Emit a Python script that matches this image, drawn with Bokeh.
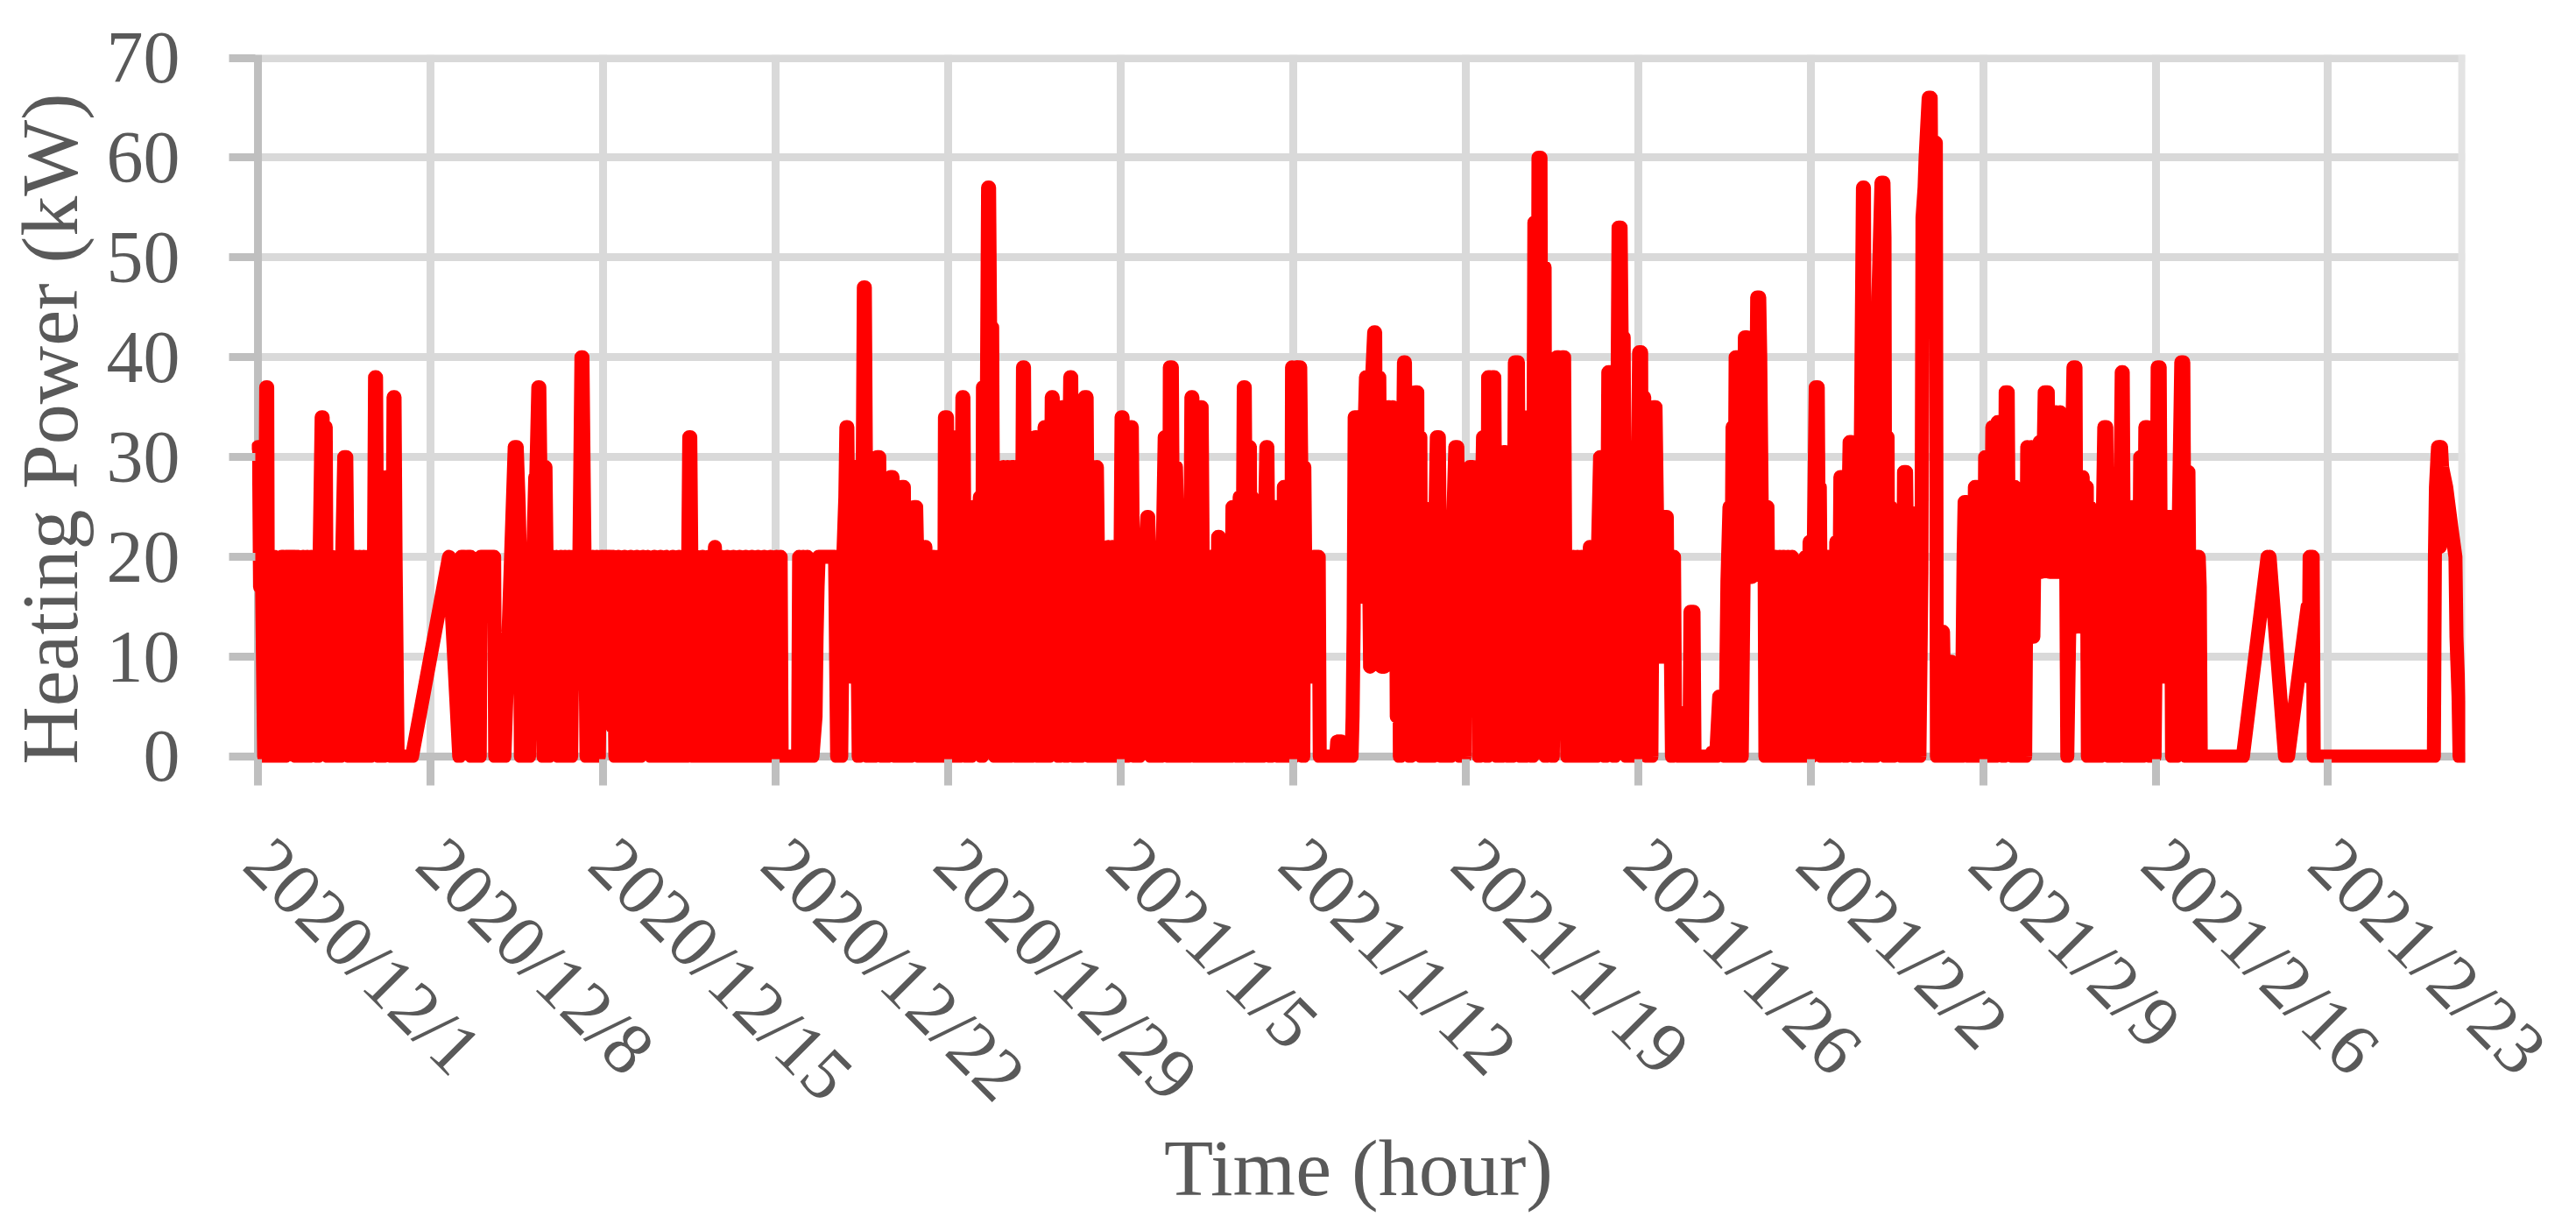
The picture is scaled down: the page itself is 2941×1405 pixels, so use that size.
import math
from bokeh.plotting import figure
from bokeh.models import FixedTicker, Span, Range1d
from bokeh.embed import file_html
from bokeh.resources import INLINE

# ---- data: (hour since 2020/12/1 00:00, heating power kW) ----
week1 = [(0,31),(1,31),(2,17),(4,17),(6,0),(8,37),(9,37),(10,0),(13,0),(15,20),(16,20),(17,0),(20,0),(23,20),(25,20),(26,0),(27,20),(36,20),(37,0),(39,20),(41,17),(42,0),(44,20),(46,0),(48,20),(50,0),(52,20),(54,12),(56,20),(58,0),(60,20),(62,34),(63,34),(64,20),(65,33),(66,33),(67,10),(68,0),(71,0),(72,20),(73,0),(80,0),(82,20),(84,30),(86,30),(87,20),(89,0),(91,20),(93,0),(95,20),(97,0),(99,20),(101,0),(103,20),(105,0),(107,20),(109,0),(111,20),(113,20),(114,38),(115,38),(116,20),(118,0),(120,20),(122,0),(124,20),(125,28),(128,28),(129,20),(130,0),(132,36),(133,36),(134,20),(136,0),(150,0)]
week2 = [(186,20),(196,0),(198,20),(201,20),(203,17),(204,20),(207,20),(208,0),(216,0),(217,20),(230,20),(231,0),(240,0),(250,31),(252,31),(254,25),(255,20),(256,0),(258,20),(260,0),(262,20),(264,0),(266,20),(268,20),(270,28),(271,28),(273,37),(274,37),(276,20),(278,0),(280,29),(281,20),(283,0),(285,20),(287,20),(289,17),(291,20),(293,0),(295,20),(297,0),(299,20),(301,0),(303,20),(305,0),(307,20),(309,12),(311,20),(313,20),(315,40),(316,40),(318,20),(320,0),(322,20),(324,0),(326,20),(328,0),(330,20),(332,0),(334,20)]
week3 = [(336,20),(338,10),(339,20),(343,20),(345,3),(346,20),(348,0),(351,20),(354,0),(357,20),(360,0),(363,20),(366,0),(369,20),(372,0),(375,20),(378,17),(380,20),(383,0),(386,20),(389,0),(392,20),(395,0),(398,20),(401,0),(404,20),(407,0),(410,20),(412,0),(415,20),(417,0),(419,20),(420,32),(421,32),(422,20),(424,0),(427,20),(430,0),(433,20),(436,0),(439,20),(442,0),(445,21),(448,0),(451,20),(454,0),(457,20),(460,0),(463,20),(466,0),(469,20),(472,0),(475,20),(478,0),(481,20),(484,0),(487,20),(490,0),(493,20),(496,0),(499,20),(502,0)]
week4 = [(505,20),(507,0),(509,20),(510,0),(526,0),(527,20),(529,0),(531,20),(533,0),(535,20),(537,0),(538,15),(540,0),(543,4),(544,12),(545,17),(546,20),(562,20),(564,0),(566,20),(568,0),(570,20),(572,26),(573,33),(574,33),(575,20),(577,8),(579,20),(581,29),(582,29),(583,20),(585,0),(587,25),(589,30),(590,47),(591,47),(592,30),(594,0),(596,25),(598,25),(600,0),(602,20),(603,30),(605,30),(606,20),(608,0),(610,26),(611,26),(613,0),(615,20),(616,28),(618,28),(619,20),(621,0),(623,20),(625,0),(627,27),(629,27),(631,0),(633,20),(635,0),(637,20),(639,25),(641,25),(642,20),(644,0),(646,20),(648,0),(650,21),(652,0),(654,20),(656,0),(658,20),(660,0),(662,20),(664,0),(666,20),(668,0),(669,34),(671,34)]
week5 = [(672,20),(674,0),(676,32),(677,32),(678,20),(680,0),(681,24),(683,0),(685,20),(686,36),(687,36),(688,20),(690,0),(692,20),(694,0),(696,25),(698,25),(699,8),(701,20),(703,26),(704,8),(705,0),(706,37),(707,26),(709,20),(711,57),(712,57),(713,43),(715,43),(716,18),(718,0),(720,18),(722,0),(724,23),(726,29),(728,0),(730,29),(732,0),(734,29),(736,29),(737,10),(739,0),(741,20),(743,0),(745,39),(746,39),(747,20),(749,0),(751,20),(753,0),(755,20),(757,32),(758,32),(760,0),(762,20),(764,0),(766,33),(767,33),(768,20),(770,0),(772,20),(773,36),(774,36),(775,20),(777,6),(779,26),(780,0),(782,20),(783,35),(784,35),(785,20),(787,0),(789,20),(791,38),(792,38),(793,20),(795,0),(797,34),(798,34),(799,20),(801,0),(803,20),(805,36),(807,36),(808,20),(810,0),(812,29),(813,29),(815,0),(817,29),(818,20),(820,0),(822,18),(824,0),(826,18),(828,21),(830,0),(832,21),(834,0),(836,20),(838,0)]
week6 = [(840,20),(841,34),(842,34),(843,20),(845,30),(846,0),(848,20),(850,33),(851,33),(852,20),(854,0),(856,20),(858,0),(860,20),(862,14),(864,20),(866,24),(867,24),(868,20),(870,0),(872,20),(873,17),(875,0),(877,20),(879,0),(881,20),(883,32),(885,20),(887,0),(888,39),(890,39),(891,20),(893,0),(894,29),(896,20),(898,0),(900,20),(902,0),(904,20),(906,0),(908,20),(909,36),(910,36),(911,20),(913,0),(914,32),(916,0),(918,35),(919,35),(920,20),(922,0),(924,20),(926,0),(928,20),(930,0),(932,20),(934,0),(935,22),(936,22),(937,20),(939,0),(941,20),(943,0),(945,20),(947,0),(949,25),(951,25),(952,20),(954,0),(956,26),(957,0),(959,20),(960,37),(961,37),(962,20),(964,0),(966,31),(967,0),(968,26),(970,0),(972,20),(974,0),(976,20),(978,0),(980,20),(982,31),(983,31),(984,20),(986,0),(988,20),(990,25),(991,25),(992,20),(994,0),(996,20),(998,0),(999,27),(1000,27),(1002,0),(1004,20),(1006,0)]
week7 = [(1007,39),(1009,0),(1011,39),(1012,29),(1013,39),(1015,39),(1016,29),(1018,0),(1019,29),(1020,17.5),(1022,8),(1027,8),(1028,20),(1033,20),(1034,0),(1050,0),(1051,1.5),(1055,1.5),(1056,0),(1065,0),(1066,4),(1067,13),(1068,34),(1071,34),(1072,18),(1074,34),(1076,16),(1078,34),(1079,38),(1081,38),(1082,20),(1083,9),(1085,38),(1087,42.5),(1088,42.5),(1089,20),(1091,38),(1092,38),(1094,9),(1096,20),(1097,9),(1099,20),(1100,35),(1102,35),(1103,17),(1105,35),(1106,17),(1108,27),(1109,4),(1111,27),(1112,0),(1114,20),(1116,39.5),(1117,39.5),(1119,4),(1120,30),(1122,0),(1124,30),(1126,4),(1127,36.5),(1129,36.5),(1130,4),(1132,32),(1133,0),(1135,25),(1136,0),(1138,23),(1140,0),(1142,24),(1144,0),(1146,20),(1148,32),(1150,32),(1151,20),(1153,0),(1155,23),(1157,0),(1159,20),(1161,0),(1163,20),(1166,31),(1168,31),(1169,20),(1171,0),(1173,22),(1175,0)]
week8 = [(1176,22),(1178,10),(1180,29),(1183,29),(1184,10),(1186,25),(1188,25),(1189,0),(1191,20),(1193,32),(1194,32),(1195,20),(1197,0),(1198,38),(1200,38),(1201,20),(1202,38),(1204,38),(1205,20),(1207,0),(1209,28),(1211,0),(1213,30.5),(1215,30.5),(1216,20),(1218,0),(1219,26),(1221,0),(1223,20),(1224,39.5),(1227,39.5),(1228,20),(1230,0),(1232,32),(1234,0),(1236,34),(1238,34),(1239,20),(1241,0),(1243,53.5),(1244,53.5),(1246,20),(1247,60),(1249,60),(1250,20),(1252,49),(1253,49),(1254,0),(1256,24),(1258,31.5),(1260,31.5),(1261,0),(1263,20),(1265,40),(1267,40),(1268,20),(1270,40),(1272,40),(1273,20),(1275,0),(1277,20),(1279,0),(1281,20),(1283,0),(1285,20),(1287,0),(1289,20),(1291,0),(1293,20),(1295,0),(1297,21),(1299,0),(1301,21),(1303,0),(1305,21),(1307,30),(1309,30),(1310,20),(1312,0),(1314,20),(1315,38.5),(1317,38.5),(1318,20),(1320,33),(1321,0),(1323,20),(1325,53),(1327,53),(1328,42),(1330,42),(1331,20),(1333,0),(1335,26),(1337,0),(1339,26),(1341,0),(1343,20)]
week9 = [(1345,40.5),(1347,40.5),(1348,5),(1350,36),(1351,26),(1353,0),(1355,20),(1357,0),(1359,35),(1361,35),(1363,20),(1364,10),(1367,20),(1368,10),(1370,24),(1372,24),(1373,10),(1375,20),(1377,0),(1379,20),(1380,4.5),(1383,4.5),(1384,0),(1394,0),(1395,14.5),(1398,14.5),(1399,0),(1415,0),(1416,0.4),(1419,0.4),(1420,0),(1423,6),(1428,6),(1429,0),(1431,17.5),(1433,25),(1434,0),(1436,33),(1437,0),(1439,40),(1441,40),(1442,0),(1444,39.5),(1445,0),(1447,20),(1448,42),(1450,42),(1451,20),(1453,38),(1455,18),(1457,38),(1458,19),(1460,46),(1462,46),(1463,40),(1465,19),(1467,25),(1468,0),(1470,25),(1472,0),(1474,20),(1476,0),(1478,20),(1480,0),(1482,20),(1484,0),(1486,20),(1488,0),(1490,20),(1492,0),(1494,20),(1496,0),(1497,12),(1499,0),(1501,17.5),(1504,17.5),(1505,0),(1507,20),(1509,0),(1511,21.5)]
week10 = [(1513,0),(1515,20),(1517,37),(1519,37),(1520,20),(1521,27),(1523,0),(1525,20),(1527,0),(1529,20),(1531,0),(1533,20),(1535,0),(1537,21.5),(1539,0),(1541,28),(1543,28),(1544,20),(1546,0),(1548,20),(1550,31.5),(1552,31.5),(1553,20),(1555,0),(1556,24),(1558,0),(1560,20),(1563,57),(1564,57),(1565,20),(1567,0),(1569,20),(1571,0),(1573,28),(1575,0),(1576,20),(1578,46),(1581,57.5),(1583,57.5),(1584,52),(1585,0),(1587,32),(1588,0),(1590,25),(1592,0),(1594,8),(1598,8),(1599,11),(1601,0),(1603,28.5),(1605,28.5),(1606,20),(1607,0),(1609,24.5),(1610,0),(1612,18.5),(1614,0),(1616,18.5),(1618,0),(1620,18.5),(1621,54),(1623,57),(1624,60),(1627,66),(1629,66),(1630,50),(1632,61.5),(1634,61.5),(1635,0),(1637,12.5),(1639,0),(1641,12.5),(1643,0),(1645,9.5),(1647,0),(1649,9.5),(1651,0),(1653,7.5),(1655,0),(1657,7.5),(1659,0),(1661,20),(1662,25.5),(1664,25.5),(1666,0),(1668,20),(1670,0),(1672,27),(1674,27),(1676,0),(1678,20)]
week11 = [(1680,0),(1682,30),(1685,30),(1686,0),(1688,20),(1689,33),(1690,33),(1692,0),(1694,33.5),(1697,33.5),(1698,20),(1700,0),(1702,36.5),(1704,36.5),(1705,20),(1707,27),(1709,0),(1711,27),(1713,0),(1715,20),(1717,0),(1719,20),(1721,0),(1723,31),(1725,12),(1727,31),(1729,12),(1731,31),(1733,18.5),(1735,31.5),(1737,18.5),(1740,36.5),(1743,36.5),(1745,18.5),(1747,34.5),(1749,18.5),(1751,34.5),(1753,18.5),(1755,34.5),(1757,18.5),(1759,32),(1761,18.5),(1762,0),(1765,20),(1768,39),(1770,39),(1771,13),(1773,28),(1775,13),(1777,28),(1779,13),(1781,27),(1782,0),(1784,25),(1786,0),(1788,20),(1790,0),(1792,20),(1794,0),(1796,20),(1798,33),(1800,33),(1801,20),(1803,0),(1805,27),(1807,0),(1809,27),(1811,0),(1813,20),(1815,38.5),(1816,38.5),(1817,20),(1819,0),(1821,25),(1823,0),(1825,25),(1827,0),(1829,20),(1831,0),(1833,30),(1835,0),(1837,20),(1838,33),(1840,33),(1841,20),(1843,0)]
week12 = [(1845,27),(1847,0),(1849,20),(1850,39),(1852,39),(1853,20),(1855,8),(1858,8),(1860,24),(1863,24),(1864,0),(1866,24),(1868,0),(1870,20),(1873,39.5),(1875,39.5),(1876,20),(1878,0),(1880,28.5),(1882,0),(1884,20),(1886,0),(1888,20),(1890,20),(1891,17),(1892,0),(1933,0),(1957,20),(1958,15),(1959,20),(1974,0),(1977,0),(1996,15),(1997,8),(1998,20),(2001,20),(2002,0)]
week13 = [(2119,0),(2120,20),(2121,27),(2123,31),(2124,31),(2125,21),(2126,31),(2127,29),(2131,27),(2136,23),(2140,20),(2141,12),(2143,6),(2144,0),(2147,0)]

weeks = [week1, week2, week3, week4, week5, week6, week7, week8, week9, week10, week11, week12, week13]
hours = [h for w in weeks for h, _ in w]
power_kw = [v for w in weeks for _, v in w]

tick_labels = ["2020/12/1", "2020/12/8", "2020/12/15", "2020/12/22", "2020/12/29", "2021/1/5",
               "2021/1/12", "2021/1/19", "2021/1/26", "2021/2/2", "2021/2/9", "2021/2/16", "2021/2/23"]
y_ticks = [0, 10, 20, 30, 40, 50, 60, 70]

X_START, X_END = -6.0, 2149.5
Y_START, Y_END = -0.62, 70.31
BORDER_X = 2146.6
GUIDE_W = 9

p = figure(width=2925, height=1389, output_backend="svg", toolbar_location=None,
           x_range=Range1d(X_START, X_END), y_range=Range1d(Y_START, Y_END),
           min_border_left=287, min_border_right=111, min_border_top=62, min_border_bottom=519)
p.outline_line_color = None
p.background_fill_color = "white"
p.border_fill_color = "white"

tick_pos = [168 * i for i in range(len(tick_labels))]
p.xaxis.ticker = FixedTicker(ticks=tick_pos)
p.xaxis.major_label_overrides = {t: lab for t, lab in zip(tick_pos, tick_labels)}
p.yaxis.ticker = FixedTicker(ticks=y_ticks)

for ax in (p.xaxis[0], p.yaxis[0]):
    ax.axis_line_color = None
    ax.major_tick_line_color = "#bfbfbf"
    ax.major_tick_line_width = GUIDE_W
    ax.major_tick_in = 4
    ax.major_tick_out = 26
    ax.minor_tick_line_color = None
    ax.major_label_text_font = "Liberation Serif"
    ax.major_label_text_font_size = "84px"
    ax.major_label_text_color = "#595959"
    ax.axis_label_text_font = "Liberation Serif"
    ax.axis_label_text_font_size = "92px"
    ax.axis_label_text_color = "#595959"
    ax.axis_label_text_font_style = "normal"

p.xaxis.major_label_orientation = -math.pi / 4
p.xaxis.major_label_standoff = 74
p.yaxis.major_label_standoff = 56
p.xaxis.axis_label = "Time (hour)"
p.yaxis.axis_label = "Heating Power (kW)\u00a0\u00a0"
p.xaxis.axis_label_standoff = -28
p.yaxis.axis_label_standoff = 11

p.xgrid.grid_line_color = "#d9d9d9"
p.xgrid.grid_line_width = GUIDE_W
p.ygrid.grid_line_color = "#d9d9d9"
p.ygrid.grid_line_width = GUIDE_W

p.add_layout(Span(location=BORDER_X, dimension="height", line_color="#e3e3e3", line_width=GUIDE_W, level="underlay"))
p.add_layout(Span(location=0, dimension="width", line_color="#bfbfbf", line_width=GUIDE_W, level="underlay"))
p.add_layout(Span(location=0, dimension="height", line_color="#bfbfbf", line_width=GUIDE_W, level="underlay"))

p.line(hours, power_kw, line_color="#ff0000", line_width=16, line_join="round", line_cap="round")

open("out.html", "w").write(file_html(p, INLINE))
